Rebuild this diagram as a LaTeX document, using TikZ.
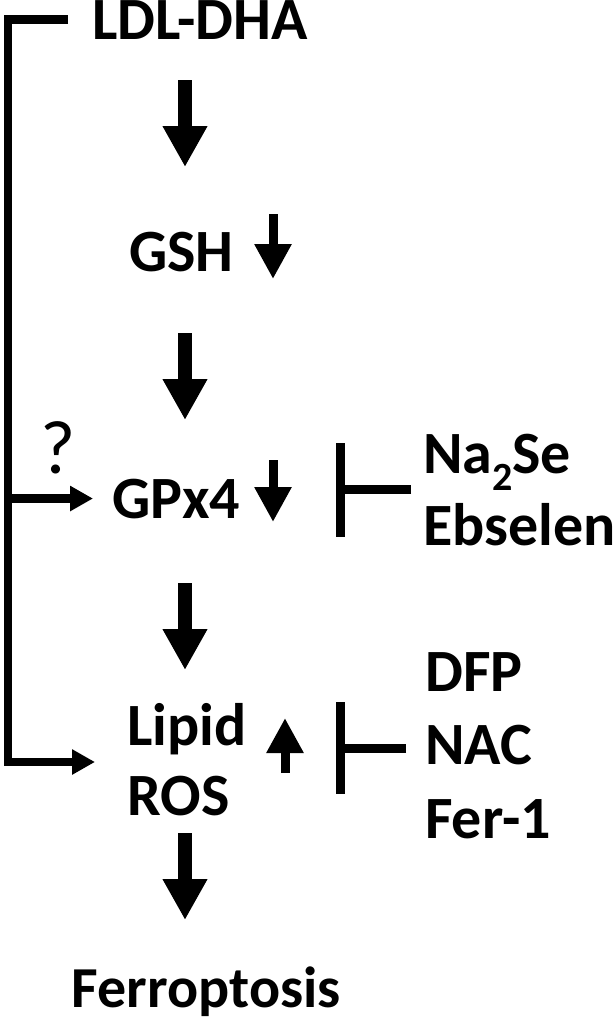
\documentclass[tikz,border=0pt]{standalone}
\usepackage{fontspec}
\setmainfont{Carlito}
\usetikzlibrary{arrows.meta}

\begin{document}
\begin{tikzpicture}[x=1pt,y=-1pt,
  lbl/.style={font=\fontsize{60}{72}\selectfont\bfseries,inner sep=0pt,anchor=base west},
  bigarrow/.style={line width=14pt,-{Triangle[length=41pt,width=42pt]}},
  smallarrow/.style={line width=9pt,-{Triangle[length=35pt,width=35pt]}},
  branch/.style={line width=8.5pt,-{Triangle[length=23pt,width=24pt]}},
  tbar/.style={line width=9pt}]
  \useasboundingbox (0,0) rectangle (614,1020);
  \fill[white] (0,0) rectangle (614,1020);
  % pathway
  \node[lbl] (ldl) at (92,39) {LDL-DHA};
  \node[lbl] (gsh) at (129,271) {GSH};
  \node[lbl] (gpx) at (112,518) {GPx4};
  \node[lbl] (lipid) at (127,745) {Lipid};
  \node[lbl] (ros) at (127,815) {ROS};
  \node[lbl,anchor=base east,font=\fontsize{58}{70}\selectfont\bfseries] (ferro) at (341,1007) {Ferroptosis};
  \node[lbl,font=\fontsize{76}{76}\selectfont] (q) at (40,473) {?};
  % inhibitors
  \node[lbl] (nase) at (423,473) {Na\raisebox{-17pt}{\fontsize{40}{40}\selectfont 2}Se};
  \node[lbl] (ebs) at (423,545) {Ebselen};
  \node[lbl] (dfp) at (425,691) {DFP};
  \node[lbl] (nac) at (425,764) {NAC};
  \node[lbl] (fer) at (425,838) {Fer-1};

  \coordinate (col) at (185,0);
  \draw[bigarrow,shorten <=41pt,shorten >=104pt] (ldl.base -| col) -- (gsh.base -| col);
  \draw[bigarrow,shorten <=62pt,shorten >=98pt] (gsh.base -| col) -- (gpx.base -| col);
  \draw[bigarrow,shorten <=65pt,shorten >=75pt] (gpx.base -| col) -- (lipid.base -| col);
  \draw[bigarrow,shorten <=18pt,shorten >=87pt] (ros.base -| col) -- (ferro.base -| col);

  % up / down marks
  \draw[smallarrow] (273,214) -- (273,279);
  \draw[smallarrow] (273,460) -- (273,522);
  \draw[smallarrow] (285,773) -- (285,718);

  % direct route
  \coordinate (corner) at (8,762);
  \coordinate (lipidin) at (95,762);
  \draw[branch] ([xshift=-24pt]ldl.west) -| (corner) -- (lipidin);
  \draw[branch,shorten >=19pt] (corner |- gpx.west) -- (gpx.west);

  % inhibitors
  \coordinate (gpxbar) at (340,489);
  \coordinate (rosbar) at (340,748);
  \draw[tbar,shorten <=12pt] (nase.west |- gpxbar) -- (gpxbar);
  \draw[tbar] ([yshift=46pt]gpxbar) -- ([yshift=-48pt]gpxbar);
  \draw[tbar,shorten <=19pt] (nac.west |- rosbar) -- (rosbar);
  \draw[tbar] ([yshift=46pt]rosbar) -- ([yshift=-46pt]rosbar);
\end{tikzpicture}
\end{document}
